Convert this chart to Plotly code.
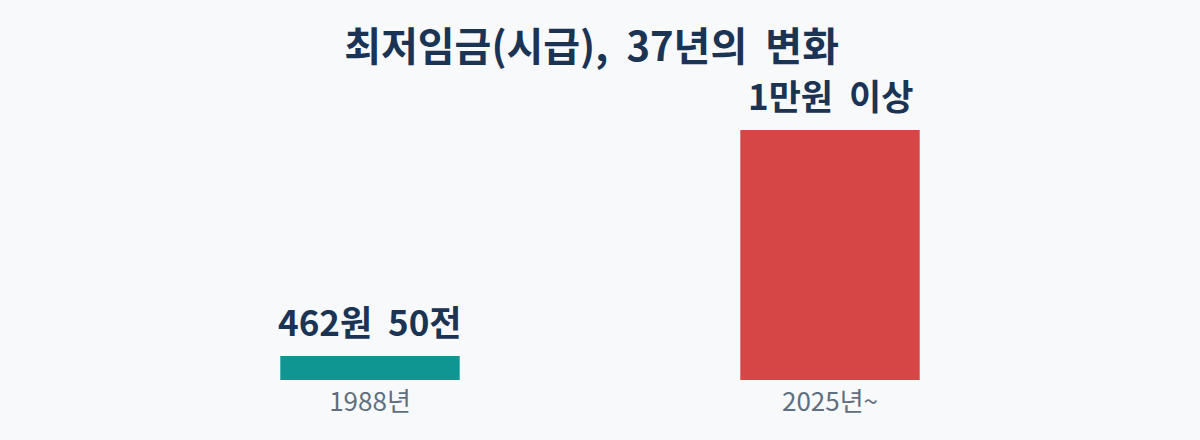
import plotly.graph_objects as go

# 데이터
years = ["1988년", "2025년~"]
heights = [960, 10000]          # 그림에서 읽은 막대 높이(상대값)
labels = ["462원 50전", "1만원 이상"]
colors = ["#0f9692", "#d64646"]

FONT = "Noto Sans CJK KR"
NAVY = "#1b3453"
BG = "#f7f9fb"

fig = go.Figure()
fig.add_trace(go.Bar(
    x=years,
    y=heights,
    marker=dict(color=colors, line=dict(width=0)),
    width=0.39,
    hoverinfo="skip",
))

# 막대 위 값 라벨 (띄어쓰기를 조금 넓게)
for yr, h, lab in zip(years, heights, labels):
    fig.add_annotation(
        x=yr, y=h, text="<b>" + lab.replace(" ", "&nbsp; ") + "</b>",
        showarrow=False, yanchor="bottom", yshift=8,
        font=dict(family=FONT, size=35, color=NAVY),
    )

fig.update_layout(
    width=1200, height=440,
    paper_bgcolor=BG,
    plot_bgcolor=BG,
    margin=dict(l=140, r=140, t=100, b=60),
    title=dict(
        text="<b>최저임금(시급),&nbsp; 37년의&nbsp; 변화</b>",
        x=0.493, xanchor="center", y=0.893, yanchor="middle",
        font=dict(family=FONT, size=40, color=NAVY),
    ),
    showlegend=False,
    font=dict(family=FONT),
)
fig.update_xaxes(
    showgrid=False, showline=False, zeroline=False,
    tickfont=dict(family=FONT, size=26, color="#5f6f80"),
    ticks="", ticklabelstandoff=4,
)
fig.update_yaxes(visible=False, range=[0, 11200])

# 페이지 여백 제거
fig.write_html(
    "out.html",
    config={"displayModeBar": False},
    post_script="document.body.style.margin='0';document.body.style.background='" + BG + "';",
)
